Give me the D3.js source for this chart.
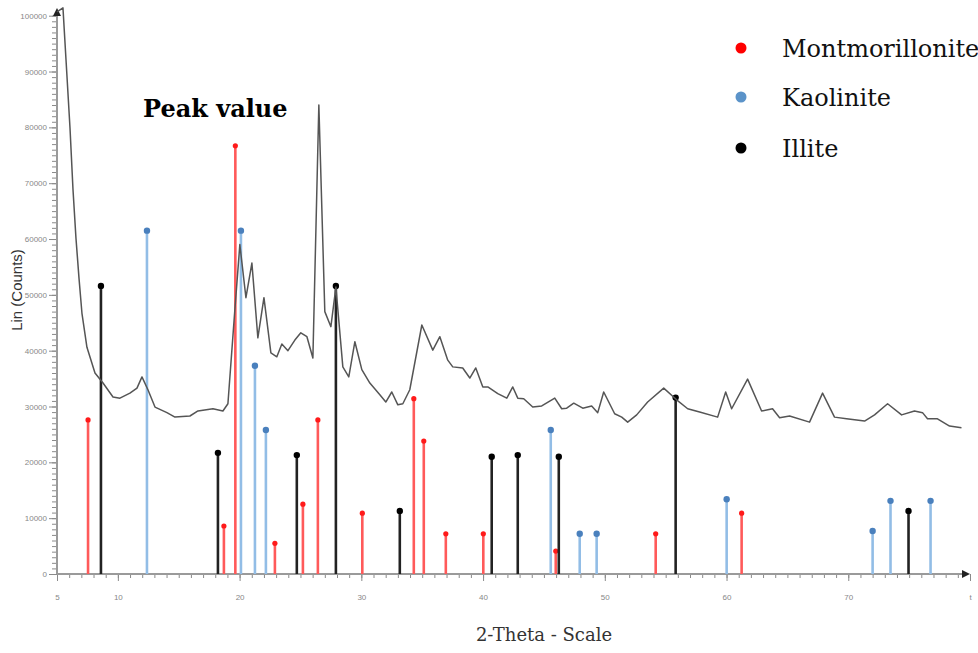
<!DOCTYPE html>
<html lang="en">
<head>
    <meta charset="UTF-8">
    <title>XRD pattern</title>
    <script src="https://cdn.jsdelivr.net/npm/d3@7"></script>
    <style>
        body { margin: 0; background: #fff; }
        svg { display: block; }
        .tick text { font-family: "Liberation Sans", Arial, sans-serif; fill: #888; }
    </style>
</head>
<body>
<svg width="978" height="653"></svg>
<script>
    // diffractogram trace (2-theta, counts)
    const theta = [5.00, 5.49, 5.74, 6.07, 6.31, 6.56, 6.81, 7.05, 7.46, 8.12, 8.78, 9.60, 10.17, 10.99, 11.57, 11.98, 12.47, 13.05, 14.03, 14.69,
        15.92, 16.58, 17.81, 18.63, 19.04, 19.61, 20.02, 20.52, 21.01, 21.50, 22.00, 22.57, 23.06, 23.47, 23.97, 24.54, 25.03, 25.53, 26.02, 26.51,
        27.00, 27.50, 27.91, 28.48, 28.97, 29.47, 30.04, 30.70, 31.52, 32.01, 32.50, 33.00, 33.41, 33.98, 34.97, 35.87, 36.45, 37.10, 37.51, 38.33,
        38.91, 39.40, 39.98, 40.39, 41.21, 41.95, 42.44, 42.85, 43.34, 44.08, 44.82, 45.89, 46.46, 46.87, 47.45, 48.19, 48.92, 49.42, 49.91, 50.81,
        51.39, 51.88, 52.62, 53.52, 54.84, 55.90, 56.81, 57.79, 59.27, 59.93, 60.42, 61.73, 62.88, 63.78, 64.36, 65.18, 66.82, 67.89, 68.87, 69.86,
        71.34, 72.16, 73.23, 74.38, 75.44, 76.10, 76.51, 77.33, 78.32, 79.30];
    const counts = [100700, 101400, 92100, 79800, 69000, 60100, 52900, 46700, 40600, 36000, 34200, 31700, 31500, 32400, 33300, 35300, 33000, 29900, 28900, 28100,
        28300, 29200, 29600, 29200, 30500, 47300, 59000, 49500, 55700, 42300, 49500, 39600, 38900, 41200, 40000, 41900, 43200, 42500, 38700, 84000,
        47000, 44300, 51400, 37100, 35300, 41600, 36600, 34200, 32100, 30800, 32600, 30300, 30500, 33000, 44600, 40100, 42500, 38300, 37100, 36900,
        35100, 36900, 33500, 33500, 32300, 31500, 33500, 31500, 31400, 29900, 30100, 31500, 29600, 29700, 30600, 29700, 30100, 28900, 32600, 28700,
        28100, 27200, 28500, 30800, 33300, 31200, 29600, 29000, 28100, 32600, 29600, 34900, 29200, 29600, 28000, 28300, 27200, 32400, 28100, 27800,
        27400, 28500, 30500, 28500, 29200, 28900, 27800, 27800, 26500, 26200];

    // reference peaks
    const montTheta = [7.55, 18.71, 19.65, 22.90, 25.20, 26.43, 30.08, 34.31, 35.13, 36.94, 40.02, 45.97, 54.18, 61.24];
    const montCounts = [27600, 8600, 76700, 5500, 12500, 27600, 10900, 31400, 23800, 7200, 7200, 4100, 7200, 10900];
    const kaolTheta = [12.39, 20.11, 21.26, 22.16, 45.56, 47.94, 49.33, 60.01, 72.00, 73.47, 76.76];
    const kaolCounts = [61500, 61500, 37300, 25800, 25800, 7200, 7200, 13400, 7700, 13100, 13100];
    const illTheta = [8.61, 18.22, 24.70, 27.91, 33.16, 40.71, 42.85, 46.22, 55.82, 74.95];
    const illCounts = [51600, 21700, 21300, 51600, 11300, 21000, 21300, 21000, 31600, 11300];

    const legendNames = ["Montmorillonite", "Kaolinite", "Illite"];
    const xTickValues = [5, 10, 20, 30, 40, 50, 60, 70, 80];
    const xTickLabels = ["5", "10", "20", "30", "40", "50", "60", "70", "t"];

    const svg = d3.select("svg");
    const x = d3.scaleLinear().domain([5, 80]).range([57, 970]);
    const y = d3.scaleLinear().domain([0, 100000]).range([574, 15.7]);

    const series = [
        {name: legendNames[0], t: montTheta, c: montCounts, stem: "#ff5a5a", dot: "#ff1a1a", r: 2.6},
        {name: legendNames[1], t: kaolTheta, c: kaolCounts, stem: "#92bde6", dot: "#4a80bd", r: 3.2},
        {name: legendNames[2], t: illTheta, c: illCounts, stem: "#222", dot: "#000", r: 3.2}
    ];

    // arrow marker for the axes
    svg.append("defs").append("marker")
        .attr("id", "arr").attr("viewBox", "0 0 10 10").attr("refX", 5).attr("refY", 5)
        .attr("markerWidth", 4).attr("markerHeight", 4).attr("orient", "auto")
        .append("path").attr("d", "M0,0L10,5L0,10z").attr("fill", "#222");

    // minor ticks
    const xMinor = svg.append("g").attr("transform", "translate(0,574)")
        .call(d3.axisBottom(x).tickValues(d3.range(5, 81, 1)).tickSize(4).tickFormat(""));
    const yMinor = svg.append("g").attr("transform", "translate(57,0)")
        .call(d3.axisLeft(y).tickValues(d3.range(0, 100001, 1000)).tickSize(5).tickFormat(""));

    // major ticks + labels
    const xMajor = svg.append("g").attr("transform", "translate(0,574)")
        .call(d3.axisBottom(x).tickValues(xTickValues).tickSize(7)
            .tickFormat((d, i) => xTickLabels[i]).tickPadding(13));
    const yMajor = svg.append("g").attr("transform", "translate(57,0)")
        .call(d3.axisLeft(y).tickValues(d3.range(0, 100001, 10000)).tickSize(8).tickPadding(2)
            .tickFormat(d3.format("d")));

    [xMinor, yMinor, xMajor, yMajor].forEach(g => {
        g.select(".domain").remove();
        g.selectAll(".tick line").attr("stroke", "#8a8a8a").attr("stroke-width", 1);
        g.selectAll(".tick text").attr("font-size", 8);
    });

    // axis lines
    svg.append("line").attr("x1", x(5)).attr("x2", x(80) - 4).attr("y1", y(0)).attr("y2", y(0))
        .attr("stroke", "#9a9a9a").attr("stroke-width", 2).attr("marker-end", "url(#arr)");
    svg.append("line").attr("x1", x(5)).attr("x2", x(5)).attr("y1", y(0)).attr("y2", 12)
        .attr("stroke", "#9a9a9a").attr("stroke-width", 2).attr("marker-end", "url(#arr)");

    // stems
    series.forEach(s => {
        const g = svg.append("g");
        const pts = s.t.map((t, i) => [t, s.c[i]]);
        g.selectAll("line").data(pts).join("line")
            .attr("x1", d => x(d[0])).attr("x2", d => x(d[0]))
            .attr("y1", y(0)).attr("y2", d => y(d[1]))
            .attr("stroke", s.stem).attr("stroke-width", 2.6);
        g.selectAll("circle").data(pts).join("circle")
            .attr("cx", d => x(d[0])).attr("cy", d => y(d[1]))
            .attr("r", s.r).attr("fill", s.dot);
    });

    // trace
    const trace = theta.map((t, i) => [t, counts[i]]);
    svg.append("path").datum(trace)
        .attr("d", d3.line().x(d => x(d[0])).y(d => y(d[1])))
        .attr("fill", "none").attr("stroke", "#555").attr("stroke-width", 1.5)
        .attr("stroke-linejoin", "round");

    // titles
    svg.append("text").attr("transform", "translate(22,290) rotate(-90)")
        .attr("text-anchor", "middle").attr("font-family", "Liberation Sans, Arial, sans-serif")
        .attr("font-size", 15).attr("fill", "#333").text("Lin (Counts)");
    svg.append("text").attr("x", 544).attr("y", 641).attr("text-anchor", "middle")
        .attr("font-family", "DejaVu Serif, serif").attr("font-size", 18).attr("fill", "#333")
        .text("2-Theta - Scale");
    svg.append("text").attr("x", 143).attr("y", 117)
        .attr("font-family", "DejaVu Serif, serif").attr("font-weight", "bold")
        .attr("font-size", 24).attr("fill", "#000").text("Peak value");

    // legend
    const legendY = [48, 97, 148];
    const leg = svg.append("g");
    series.forEach((s, i) => {
        leg.append("circle").attr("cx", 741).attr("cy", legendY[i]).attr("r", 5.5)
            .attr("fill", i === 0 ? "#ff0000" : i === 1 ? "#5b93c9" : "#000");
        leg.append("text").attr("x", 782).attr("y", legendY[i] + 9)
            .attr("font-family", "DejaVu Serif, serif").attr("font-size", 24).attr("fill", "#111")
            .text(s.name);
    });
</script>
</body>
</html>
